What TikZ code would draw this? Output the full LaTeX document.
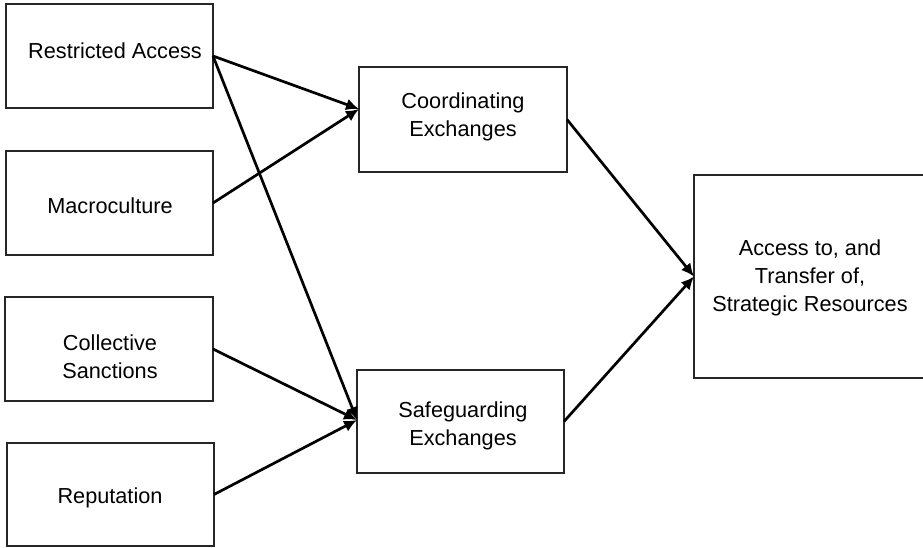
\documentclass[tikz,border=0pt]{standalone}
\usepackage{fontspec}
\setmainfont{Liberation Sans}
\usetikzlibrary{arrows.meta}
\begin{document}
\begin{tikzpicture}[x=1pt,y=-1pt,
  box/.style={draw=black!85,line width=1.2pt,inner sep=0pt,outer sep=0pt},
  lbl/.style={inner sep=0pt,align=center,anchor=base,font=\fontsize{21.7}{28}\selectfont},
  arr/.style={line width=2.7pt,-{Latex[length=13pt,width=12pt]}}]
\useasboundingbox (0,0) rectangle (923,547);
\node[box,minimum width=207pt,minimum height=104pt] (ra) at (109.5,56) {};
\node[box,minimum width=207pt,minimum height=104pt] (mc) at (109.5,203) {};
\node[box,minimum width=208pt,minimum height=104pt] (cs) at (109,349) {};
\node[box,minimum width=207pt,minimum height=103pt] (rp) at (110.5,494.5) {};
\node[box,minimum width=208pt,minimum height=105pt] (ce) at (463,119.5) {};
\node[box,minimum width=207pt,minimum height=103pt] (se) at (460.5,421.5) {};
\node[box,minimum width=231pt,minimum height=203pt] (at) at (809.5,276.5) {};
\node[lbl] (tra) at (115,58) {Restricted Access};
\node[lbl] (tmc) at (110,213) {Macroculture};
\node[lbl] (tcs) at (110,378) {Collective\\Sanctions};
\node[lbl] (trp) at (110,503.5) {Reputation};
\node[lbl] (tce) at (463,136.5) {Coordinating\\Exchanges};
\node[lbl] (tse) at (463,445.5) {Safeguarding\\Exchanges};
\node[lbl] (tat) at (810,311.5) {Access to, and\\Transfer of,\\Strategic Resources};
\draw[arr] (ra.east) -- ([yshift=10.5pt]ce.west);
\draw[arr] (mc.east) -- ([yshift=10.5pt]ce.west);
\draw[arr] (ra.east) -- ([yshift=1.5pt]se.west);
\draw[arr] (cs.east) -- ([yshift=1.5pt]se.west);
\draw[arr] (rp.east) -- ([yshift=1.5pt]se.west);
\draw[arr] (ce.east) -- (at.west);
\draw[arr] (se.east) -- (at.west);
\end{tikzpicture}
\end{document}
